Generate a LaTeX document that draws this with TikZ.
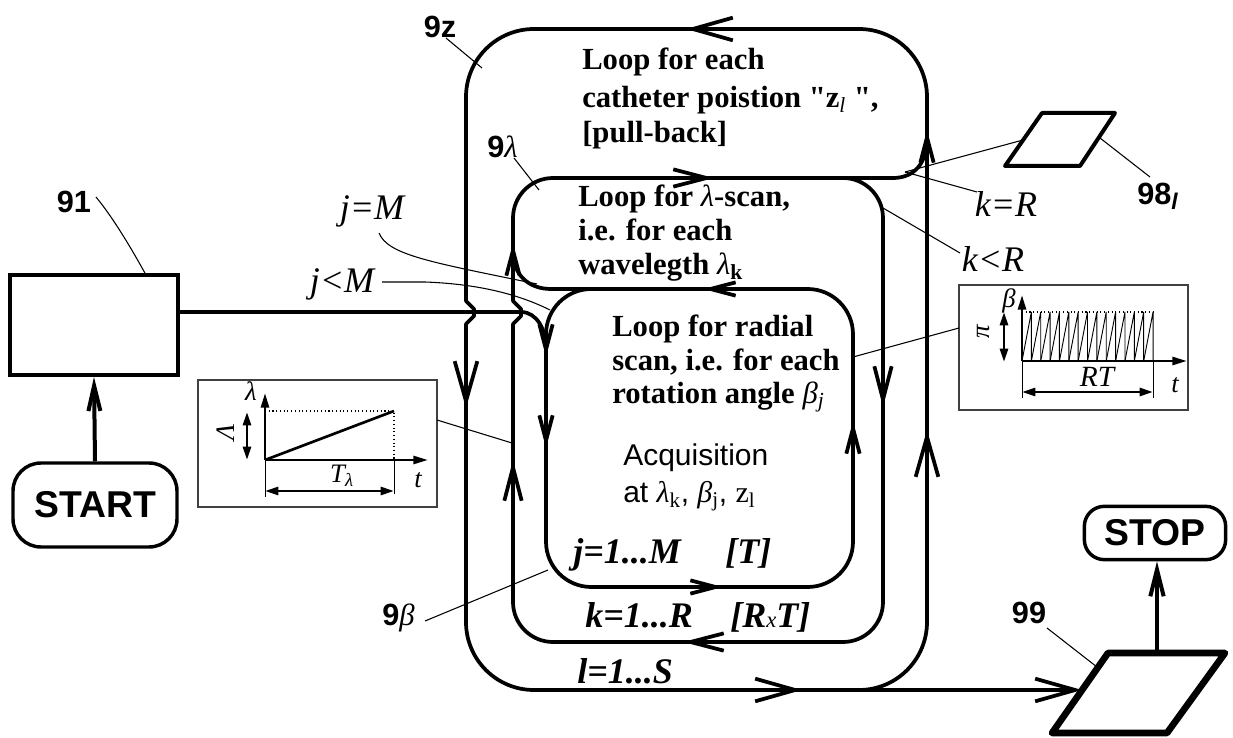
\documentclass[tikz,border=0pt]{standalone}
\usepackage{fontspec}
\setmainfont{Liberation Serif}
\setsansfont{Liberation Sans}
\newfontfamily\qfont{Liberation Serif}[Ligatures=TeXOff]
\usetikzlibrary{arrows.meta}
\tikzset{
  loopline/.style={line width=2.8pt, line join=round, line cap=round},
  leader/.style={line width=0.8pt},
  arrA/.style={-{Straight Barb[length=30pt,width=17pt]}},
  arrB/.style={-{Straight Barb[length=25pt,width=13pt]}},
  arrC/.style={-{Straight Barb[length=19pt,width=10pt]}},
  lbl/.style={inner sep=0pt, anchor=base, font=\fontsize{23}{26}\selectfont\sffamily\bfseries},
  looptext/.style={inner sep=0pt, anchor=base west, font=\fontsize{23}{26}\selectfont\bfseries},
  itlbl/.style={inner sep=0pt, anchor=base, font=\fontsize{27}{30}\selectfont\itshape},
  cnt/.style={inner sep=0pt, anchor=base west, font=\fontsize{27}{30}\selectfont\bfseries\itshape},
  plotbox/.style={line width=1pt, draw=black!75},
  axis/.style={line width=2pt, -{Triangle[length=11pt,width=6pt]}},
  dim/.style={line width=2pt, {Triangle[length=10pt,width=6pt]}-{Triangle[length=10pt,width=6pt]}},
  plbl/.style={inner sep=0pt, font=\fontsize{20}{22}\selectfont\itshape},
  term/.style={draw, line width=2.6pt, inner sep=0pt, font=\fontsize{28}{30}\selectfont\sffamily\bfseries},
}
\begin{document}
\begin{tikzpicture}[x=0.75pt,y=-0.75pt]
\useasboundingbox (0,0) rectangle (1233,738);

% ---------- loops ----------
\draw[loopline, rounded corners=51pt] (466,324) -- (466,690) -- (927,690) -- (927,29) -- (466,29) -- (466,301);
\draw[loopline] (466,301) -- (474,309) -- (474,316) -- (466,324);
\draw[loopline, rounded corners=30pt] (513,324) -- (513,642) -- (883,642) -- (883,178) -- (513,178) -- (513,301);
\draw[loopline] (513,301) -- (521,309) -- (521,316) -- (513,324);
\draw[loopline, rounded corners=34pt] (546,289) rectangle (853,587);

% exit of lambda loop (k=R)
\draw[loopline, arrC] (840,178) -- (893,178) .. controls (915,178) and (927,162) .. (927,130);
% j=M branch
\draw[loopline, arrC] (592,289) -- (551,289) .. controls (528,289) and (513,274) .. (513,243);

% ---------- boxes ----------
\node[draw, line width=3pt, minimum width=126pt, minimum height=75pt, inner sep=0pt] (b91) at (94,325) {};
\node[term, rounded corners=21pt, minimum width=123pt, minimum height=63pt] (start) at (95,505) {START};
\node[term, rounded corners=15pt, minimum width=106pt, minimum height=40pt] (stop) at (1155,533) {STOP};
\draw[line width=3pt, line join=round] (1042,113) -- (1115,113) -- (1080,166) -- (1005,166) -- cycle;
\draw[line width=5pt, line join=round] (1108,653) -- (1225,653) -- (1167,733) -- (1052,733) -- cycle;
\coordinate (e91) at (178,312);
\coordinate (in99) at (1082,690);
\coordinate (top99) at (1157,653);
\coordinate (bot) at (859,690);

% entry from 91
\draw[loopline, arrC] (e91) -- (521,312) .. controls (537,312) and (546,330) .. (546,357);
% start -> 91
\draw[line width=3pt, -{Straight Barb[length=19pt,width=9pt]}] (start.north) -- (b91.south);
% exit to 99 and stop
\draw[loopline, arrA] (bot) -- (in99);
\draw[line width=3pt, -{Straight Barb[length=20pt,width=10pt]}] (top99) -- (top99 |- stop.south);

% ---------- mid-line arrows ----------
\draw[loopline, arrA] (731,29) -- (686,29);
\draw[loopline, arrA] (466,366) -- (466,408);
\draw[loopline, arrA] (760,690) -- (802,690);
\draw[loopline, arrA] (927,472) -- (927,430);
\draw[loopline, arrB] (681,178) -- (714,178);
\draw[loopline, arrB] (883,372) -- (883,407);
\draw[loopline, arrB] (716,642) -- (683,642);
\draw[loopline, arrB] (513,495) -- (513,460);
\draw[loopline, arrC] (728,289) -- (703,289);
\draw[loopline, arrC] (853,446) -- (853,421);
\draw[loopline, arrC] (696,587) -- (723,587);
\draw[loopline, arrC] (546,423) -- (546,448);

% ---------- loop texts ----------
\node[looptext] at (582,70) {Loop for each};
\node[looptext] at (582,108) {catheter poistion {\qfont\bfseries "}z\textsubscript{\mdseries\itshape l} {\qfont\bfseries "},};
\node[looptext] at (582,143) {[pull-back]};
\node[looptext] at (578,207) {Loop for {\mdseries\itshape λ}-scan,};
\node[looptext] at (578,241) {i.e. for each};
\node[looptext] at (578,275) {wavelegth {\mdseries\itshape λ}\textsubscript{k}};
\node[looptext] at (612,336) {Loop for radial};
\node[looptext] at (612,370) {scan, i.e. for each};
\node[looptext] at (612,403) {rotation angle {\mdseries\itshape β}\textsubscript{\mdseries\itshape j}};
\node[inner sep=0pt, anchor=base west, font=\fontsize{22.5}{26}\selectfont\sffamily] at (623,465) {Acquisition};
\node[inner sep=0pt, anchor=base west, font=\fontsize{22.5}{26}\selectfont\sffamily] at (623,502) {at {\rmfamily\itshape λ}\textsubscript{\rmfamily k}, {\rmfamily\itshape β}\textsubscript{\rmfamily j}, {\rmfamily z}\textsubscript{\rmfamily l}};

\node[cnt] at (573,563) {j=1...M};
\node[cnt] at (725,563) {[T]};
\node[cnt] at (585,627) {k=1...R};
\node[cnt] at (730,627) {[R{\fontsize{17}{20}\selectfont\mdseries x}T]};
\node[cnt] at (577,683) {l=1...S};

% ---------- condition labels ----------
\node[itlbl] at (372,220) {j=M};
\node[itlbl] at (342,292) {j<M};
\node[itlbl] at (1006,217) {k=R};
\node[itlbl] at (993,272) {k<R};
\draw[leader] (379,233) .. controls (388,255) and (430,262) .. (537,284);
\draw[leader] (382,282) -- (425,282) .. controls (480,284) and (520,295) .. (550,310);
\draw[leader] (883,208) -- (960,253);
\draw[leader] (905,172) -- (977,192);
\draw[leader] (905,172) -- (1023,140);

% ---------- reference labels ----------
\node[lbl] at (440,38) {9z};
\draw[leader] (446,38) -- (482,68);
\node[lbl, anchor=base west] at (487,158) {9{\rmfamily\mdseries\itshape λ}};
\draw[leader] (514,158) -- (539,190);
\node[lbl] at (74,213) {91};
\draw[leader] (96,197) .. controls (115,220) and (135,255) .. (146,275);
\node[lbl, anchor=base west] at (1137,205) {98\raisebox{-0.3ex}{\fontsize{17}{18}\selectfont\itshape l}};
\draw[leader] (1100,138) -- (1150,177);
\node[lbl] at (1029,623) {99};
\draw[leader] (1047,628) -- (1097,667);
\node[lbl, anchor=base west] at (382,625) {9{\rmfamily\mdseries\itshape β}};
\draw[leader] (425,621) -- (548,570);

% ---------- lambda plot ----------
\draw[plotbox] (198,380) rectangle (437,507);
\draw[axis] (265,460) -- (265,393);
\draw[axis] (265,460) -- (428,460);
\draw[line width=2pt] (265,460) -- (394,411);
\draw[dotted, line width=0.8pt] (265,411) -- (394,411) -- (394,460);
\draw[line width=0.7pt] (265,460) -- (265,497) (394,460) -- (394,494);
\draw[dim] (265,491) -- (394,491);
\draw[dim] (247,412) -- (247,460);
\node[plbl] at (251,391) {λ};
\node[plbl, rotate=90] at (226,432) {Λ};
\node[plbl] at (342,476) {T\textsubscript{λ}};
\node[plbl] at (418,480) {t};
\draw[leader] (437,420) -- (512,443);

% ---------- beta plot ----------
\draw[plotbox] (959,285) rectangle (1188,410);
\draw[axis] (1022,361) -- (1022,295);
\draw[axis] (1022,361) -- (1187,361);
\draw[dotted, line width=0.8pt] (1022,312) -- (1153,312);
\foreach \i in {0,...,13} {
  \draw[line width=0.7pt] ({1022+\i*9.36},361) -- ({1022+(\i+1)*9.36},312) -- ({1022+(\i+1)*9.36},361);
}
\draw[line width=0.7pt] (1022,361) -- (1022,398) (1153,361) -- (1153,398);
\draw[dim] (1022,392) -- (1153,392);
\draw[dim] (1004,312) -- (1004,362);
\node[plbl] at (1009,301) {β};
\node[plbl, rotate=90] at (984,332) {π};
\node[plbl, font=\fontsize{22}{24}\selectfont\itshape] at (1097,377) {RT};
\node[plbl] at (1175,385) {t};
\draw[leader] (959,328) -- (853,357);
\end{tikzpicture}
\end{document}
